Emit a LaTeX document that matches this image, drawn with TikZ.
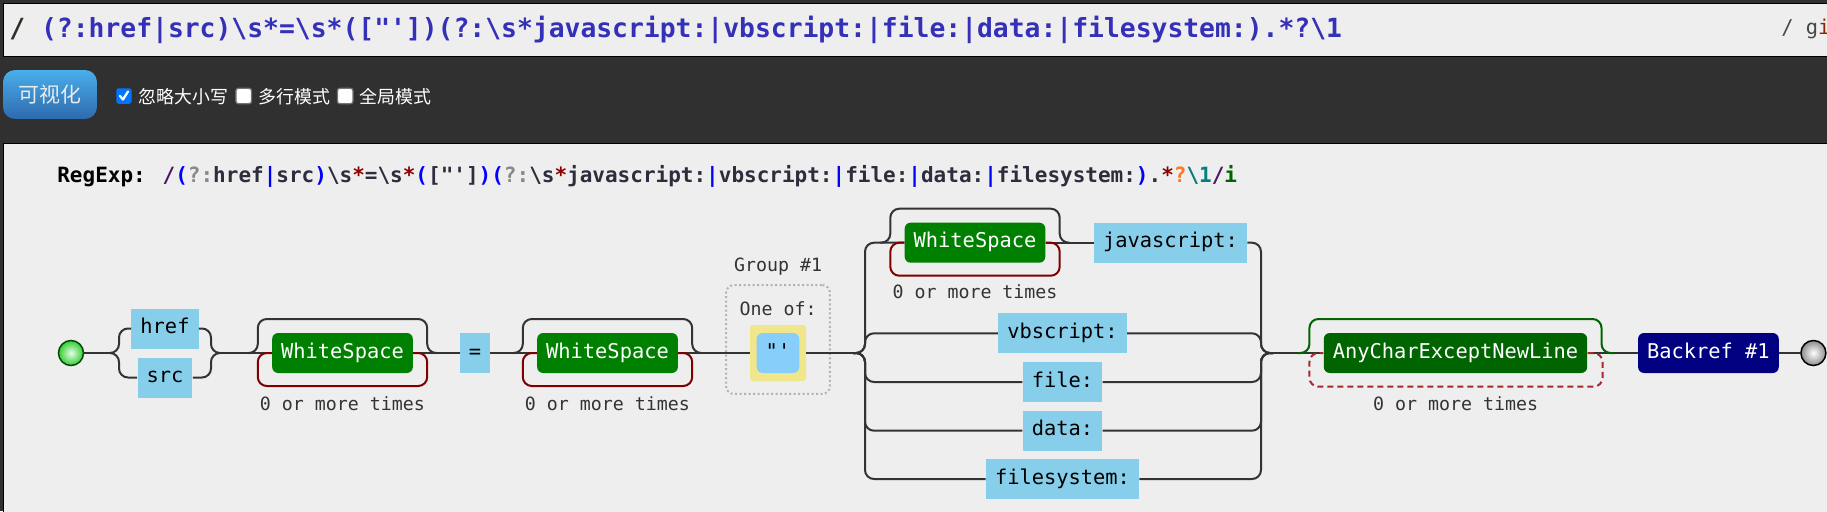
\documentclass[tikz,border=0pt]{standalone}
\usepackage{fontspec}
\usepackage{xcolor}
\usepackage{tikz}
\usetikzlibrary{calc}

\newfontfamily\rxfont{DejaVu Sans Mono}
\newfontfamily\cjkfont{Noto Sans CJK SC}
\newcommand\boxfont{\rxfont\fontsize{11.6pt}{13pt}\selectfont}
\newcommand\notefont{\rxfont\fontsize{10.4pt}{12pt}\selectfont}
\newcommand\topfont{\rxfont\bfseries\fontsize{15pt}{16pt}\selectfont}
\newcommand\rxlinefont{\rxfont\bfseries\fontsize{11.95pt}{14pt}\selectfont}
\newcommand\flagfont{\rxfont\fontsize{11.6pt}{13pt}\selectfont}
\newcommand\rxbs{\textbackslash{}}
\newcommand\rxp[1]{\textcolor{rxparen}{#1}}
\newcommand\rxg[1]{\textcolor{rxgray}{#1}}
\newcommand\rxs[1]{\textcolor{rxstar}{#1}}
\newcommand\rxsl[1]{\textcolor{rxslash}{#1}}

\definecolor{bgdark}{RGB}{48,48,48}
\definecolor{panel}{RGB}{238,238,238}
\definecolor{wirecol}{RGB}{51,51,51}
\definecolor{litblue}{RGB}{135,206,235}
\definecolor{setblue}{RGB}{135,206,250}
\definecolor{setyellow}{RGB}{240,230,140}
\definecolor{wsgreen}{RGB}{0,128,0}
\definecolor{anygreen}{RGB}{0,100,0}
\definecolor{refnavy}{RGB}{0,0,128}
\definecolor{loopred}{RGB}{128,0,0}
\definecolor{lazyred}{RGB}{165,42,42}
\definecolor{notecol}{RGB}{51,51,51}
\definecolor{topblue}{RGB}{52,48,184}
\definecolor{topdark}{RGB}{51,45,40}
\definecolor{flagred}{RGB}{139,37,0}
\definecolor{btntop}{RGB}{74,174,234}
\definecolor{btnbot}{RGB}{45,106,174}
\definecolor{chkblue}{RGB}{0,117,255}
\definecolor{rxlit}{RGB}{45,45,62}
\definecolor{rxparen}{RGB}{0,0,255}
\definecolor{rxgray}{RGB}{136,136,136}
\definecolor{rxstar}{RGB}{139,0,0}
\definecolor{rxlazy}{RGB}{255,119,34}
\definecolor{rxref}{RGB}{0,128,128}
\definecolor{rxflag}{RGB}{0,100,0}
\definecolor{rxslash}{RGB}{80,20,100}

\pgfdeclareradialshading{startball}{\pgfpointorigin}{color(0bp)=(green!10!white); color(25bp)=(green!75!black!80!white); color(45bp)=(green!55!black); color(50bp)=(green!40!black)}
\pgfdeclareradialshading{endball}{\pgfpointorigin}{color(0bp)=(white); color(25bp)=(black!45); color(45bp)=(black!80); color(50bp)=(black)}

\begin{document}
\begin{tikzpicture}[x=0.02cm, y=-0.02cm,
  wire/.style={draw=wirecol, line width=0.4mm, rounded corners=1.8mm},
  lit/.style={fill=litblue, text=black, font=\boxfont, inner xsep=1.8mm, inner ysep=0pt,
    minimum height=8mm, text height=8.6pt, text depth=2.6pt},
  cls/.style={lit, fill=#1, text=white, rounded corners=1.2mm},
  note/.style={font=\notefont, text=notecol, inner sep=0pt},
  chkbox/.style={minimum size=3.1mm, inner sep=0pt, rounded corners=0.5mm},
  optlabel/.style={font=\cjkfont\fontsize{10.2pt}{12pt}\selectfont, text=white, anchor=west, inner sep=0pt}]
  \useasboundingbox (0,0) rectangle (1827,511);
  % page
  \fill[bgdark] (0,0) rectangle (1827,511);
  \filldraw[fill=panel, draw=black, line width=0.2mm] (3.5,3.5) rectangle (1840,56);
  \filldraw[fill=panel, draw=black, line width=0.2mm] (3.5,143.5) rectangle (1840,530);

  % input line
  \node[anchor=west, inner sep=0pt, font=\topfont, text=topdark] (rxin) at (9,30)
    {/ \textcolor{topblue}{(?:href|src)\rxbs s*=\rxbs s*(["'])(?:\rxbs s*javascript:|vbscript:|file:|data:|filesystem:).*?\rxbs 1}};
  \node[anchor=west, inner sep=0pt, font=\flagfont, text=black!72] (rxflags) at (1781,29) {/ g\textcolor{flagred}{i}};

  % toolbar
  \node[top color=btntop, bottom color=btnbot, rounded corners=2.4mm, minimum width=18.8mm,
    minimum height=9.8mm, inner sep=0pt, text=white!92!black,
    font=\cjkfont\fontsize{11.9pt}{13pt}\selectfont] (btn) at (50,94.5) {可视化};
  \node[chkbox, fill=chkblue] (chk1) at (124,96) {};
  \draw[white, line width=0.45mm, line cap=round, line join=round] ($(chk1.center)+(-4,0)$) -- ++(3,3.5) -- ++(5,-8);
  \node[optlabel] (opt1) at (138.5,97) {忽略大小写};
  \node[chkbox, fill=white, draw=black!55, line width=0.25mm] (chk2) at (243.7,96) {};
  \node[optlabel] (opt2) at (258,97) {多行模式};
  \node[chkbox, fill=white, draw=black!55, line width=0.25mm] (chk3) at (345.2,96) {};
  \node[optlabel] (opt3) at (359.3,97) {全局模式};

  % heading
  \node[anchor=west, inner sep=0pt, font=\rxlinefont, text=rxlit] (rxhead) at (57,176.5)
    {\textcolor{black}{RegExp:} \rxsl{/}\rxp{(}\rxg{?:}href\rxp{|}src\rxp{)}\rxbs s\rxs{*}=\rxbs s\rxs{*}\rxp{(}["']\rxp{)}\rxp{(}\rxg{?:}\rxbs s\rxs{*}javascript:\rxp{|}vbscript:\rxp{|}file:\rxp{|}data:\rxp{|}filesystem:\rxp{)}.\rxs{*}\textcolor{rxlazy}{?}\textcolor{rxref}{\rxbs 1}\rxsl{/}\textcolor{rxflag}{i}};

  % first part
  \node[circle, shade, shading=startball, draw=green!30!black, line width=0.3mm,
    minimum size=5mm, inner sep=0pt] (start) at (71,353) {};
  \coordinate (f1) at (110,353);
  \coordinate (m1) at (220,353);
  \node[lit] (href) at (165,328.5) {href};
  \node[lit] (src) at (165,377.5) {src};
  \node[cls=wsgreen] (ws1) at (342.5,353) {WhiteSpace};
  \node[lit] (eq) at (475,353) {=};
  \node[cls=wsgreen] (ws2) at (607.5,353) {WhiteSpace};

  % group #1
  \node[draw=black!30, line width=0.4mm, dash pattern=on 0.4mm off 0.5mm, rounded corners=1.6mm,
    minimum width=20.8mm, minimum height=21.8mm] (grp) at (778,339.5) {};
  \node[note] (grplbl) at (778,267) {Group \#1};
  \node[note] (oneof) at (778,309) {One of:};
  \node[fill=setyellow, rounded corners=0.6mm, minimum size=11.2mm, inner sep=0pt] (cset) at (778,353) {};
  \node[lit, fill=setblue, rounded corners=1.2mm, minimum width=8.2mm] (quote) at (778,353) {"'};

  % alternatives
  \coordinate (fork) at (853,353);
  \coordinate (join) at (1273,353);
  \node[cls=wsgreen] (ws3) at (975,242.7) {WhiteSpace};
  \node[lit] (js) at (1170.5,242.7) {javascript:};
  \node[lit] (vbs) at (1062.5,333.3) {vbscript:};
  \node[lit] (file) at (1062.5,382) {file:};
  \node[lit] (data) at (1062.5,430.7) {data:};
  \node[lit] (fsys) at (1062.5,479) {filesystem:};

  % tail
  \node[cls=anygreen] (any) at (1455.5,353) {AnyCharExceptNewLine};
  \node[cls=refnavy] (bref) at (1708.4,353) {Backref \#1};
  \node[circle, shade, shading=endball, draw=black, line width=0.3mm,
    minimum size=5mm, inner sep=0pt] (stop) at (1813.4,353) {};

  % repeat labels
  \node[note] (rep1) at ($(ws1.south)+(0,30)$) {0 or more times};
  \node[note] (rep2) at ($(ws2.south)+(0,30)$) {0 or more times};
  \node[note] (rep3) at ($(ws3.south)+(0,29)$) {0 or more times};
  \node[note] (rep4) at ($(any.south)+(0,30)$) {0 or more times};

  % wires
  \draw[wire] (start) -- (f1);
  \draw[wire] (f1) -- ++(9,0) |- (href.west);
  \draw[wire] (f1) -- ++(9,0) |- (src.west);
  \draw[wire] (href.east) -| ($(m1)+(-9,0)$) -- (m1);
  \draw[wire] (src.east) -| ($(m1)+(-9,0)$) -- (m1);
  \draw[wire] (m1) -- (ws1.west);
  \draw[wire] (ws1.east) -- (eq.west);
  \draw[wire] (eq.east) -- (ws2.west);
  \draw[wire] (ws2.east) -- (cset.west);
  \draw[wire] (cset.east) -- (fork);
  \foreach \row in {ws3,vbs,file,data,fsys}
    \draw[wire] (fork) -- ++(12,0) |- (\row.west);
  \draw[wire] (ws3.east) -- (js.west);
  \foreach \row in {js,vbs,file,data,fsys}
    \draw[wire] (\row.east) -| ($(join)+(-12,0)$) -- (join);
  \draw[wire] (join) -- (any.west);
  \draw[wire] (any.east) -- (bref.west);
  \draw[wire] (bref.east) -- (stop);

  % loops
  \foreach \w in {ws1,ws2,ws3} {
    \draw[wire] ($(\w.west)+(-24,0)$) -- ++(10,0) -- ++(0,-34) -| ($(\w.east)+(14,0)$) -- ++(10,0);
    \draw[wire, draw=loopred] (\w.east) -- ++(14,0) -- ++(0,33) -| ($(\w.west)+(-14,0)$) -- (\w.west);
  }
  \draw[wire, draw=anygreen] ($(any.west)+(-26,0)$) -- ++(12,0) -- ++(0,-34) -| ($(any.east)+(14,0)$) -- ++(13,0);
  \draw[wire, draw=lazyred, dash pattern=on 1.2mm off 0.8mm] (any.east) -- ++(15,0) -- ++(0,33.7) -| ($(any.west)+(-14,0)$) -- (any.west);
\end{tikzpicture}
\end{document}
